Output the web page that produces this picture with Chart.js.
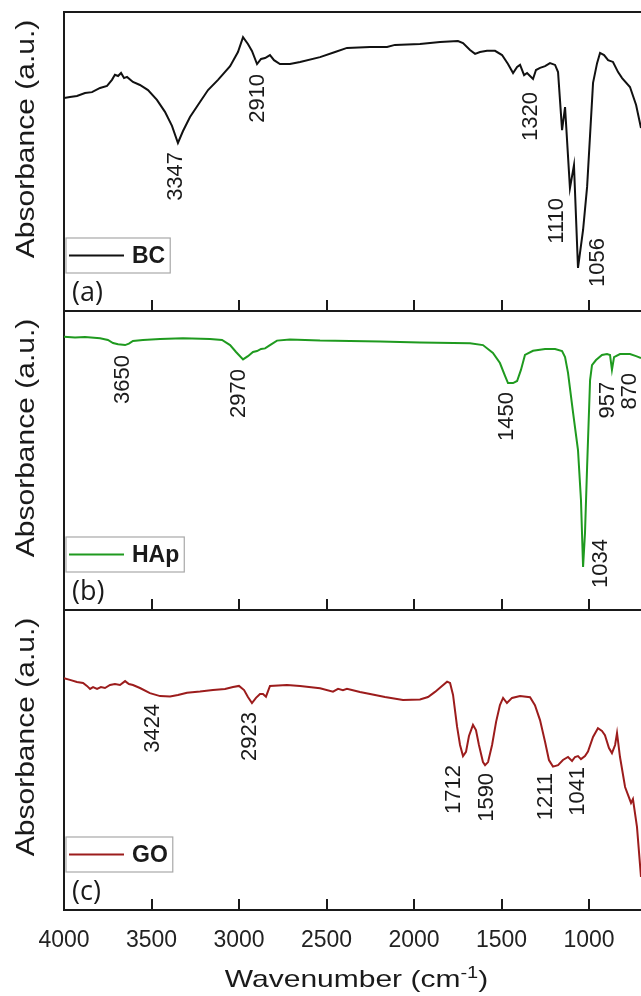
<!DOCTYPE html>
<html><head><meta charset="utf-8">
<script src="https://cdn.jsdelivr.net/npm/chart.js"></script>
<style>
html,body{margin:0;padding:0;background:#fff;}
#wrap{position:relative;width:641px;height:996px;overflow:hidden;background:#fff;}
canvas{position:absolute;left:0;}
</style></head><body>
<div id="wrap">
<canvas id="ca" width="641" height="312" style="top:0px"></canvas>
<canvas id="cb" width="641" height="301" style="top:311px"></canvas>
<canvas id="cc" width="641" height="386" style="top:610px"></canvas>
</div>
<script>
// ---- axis ticks ----
const xTicks = [4000, 3500, 3000, 2500, 2000, 1500, 1000];
const xMin = 703, xMax = 4000;

// ---- (a) BC ----
const bcWave = [4000,3966,3926,3880,3840,3794,3754,3726,3709,3691,3674,3657,3640,3606,3566,3520,3469,3423,3383,3349,3320,3280,3223,3177,3120,3051,3006,2977,2949,2926,2897,2874,2851,2823,2800,2766,2709,2651,2537,2451,2383,2251,2154,2109,1966,1851,1749,1720,1680,1651,1623,1583,1537,1497,1463,1434,1411,1394,1371,1354,1337,1320,1303,1280,1251,1223,1194,1177,1154,1137,1109,1086,1063,1034,1011,977,954,937,914,891,863,834,811,766,731,703];
const bcAbs = [71.2,71.6,71.9,72.9,73.2,74.6,75.3,77.3,79.0,78.6,79.6,77.9,78.3,76.6,75.6,73.9,70.6,66.6,61.9,56.2,60.2,64.9,69.9,73.9,77.3,81.9,86.6,91.6,89.3,87.0,82.6,84.3,84.6,85.6,83.9,82.6,82.6,83.3,84.9,86.6,88.0,88.3,88.3,89.0,89.3,90.0,90.3,89.6,87.3,86.0,86.6,87.0,87.0,85.6,82.6,79.6,81.6,82.3,78.9,79.6,78.6,77.6,80.6,81.3,81.9,82.9,82.3,79.9,60.5,68.2,41.1,48.8,14.4,27.1,41.5,76.3,82.9,86.3,85.6,83.9,83.3,79.9,77.9,74.9,68.9,61.2];
const bcPeakText = ['3347','2910','1320','1110','1056'];
const bcPeakWave = [3360, 2891, 1331, 1183, 949];
const bcPeakTop = [53.2, 79.3, 73.2, 37.8, 24.4];

// ---- (b) HAp ----
const hapWave = [4000,3937,3880,3794,3749,3720,3691,3651,3629,3606,3549,3451,3320,3166,3097,3051,3017,2977,2949,2920,2897,2874,2851,2823,2783,2709,2537,2194,1966,1680,1606,1549,1509,1480,1463,1434,1411,1389,1366,1320,1251,1194,1154,1137,1120,1091,1063,1046,1034,1023,1011,994,983,960,926,897,880,869,857,823,766,731,703];
const hapAbs = [91.4,91.1,91.3,90.9,90.3,89.3,88.9,88.6,89.1,90.0,90.3,90.6,90.9,90.6,90.3,88.6,86.3,83.8,84.9,86.3,86.6,87.3,87.5,88.6,90.1,90.5,90.1,89.8,89.5,89.2,88.6,86.0,82.6,78.3,75.9,75.9,76.6,80.3,85.3,86.7,87.3,87.3,86.6,84.6,79.3,65.9,53.5,36.8,14.4,25.8,47.8,76.9,81.9,83.6,85.3,85.6,85.3,80.3,84.6,85.6,85.6,84.9,84.3];
const hapPeakText = ['3650','2970','1450','1034','957','870'];
const hapPeakWave = [3663, 3000, 1469, 931, 891, 766];
const hapPeakTop = [85.3, 80.6, 72.9, 23.7, 76.3, 79.3];

// ---- (c) GO ----
const goWave = [4000,3966,3926,3891,3869,3851,3834,3811,3789,3766,3737,3709,3680,3651,3629,3606,3566,3509,3451,3394,3349,3297,3223,3149,3080,3034,3000,2971,2949,2926,2903,2880,2863,2846,2823,2726,2651,2537,2463,2434,2406,2383,2309,2251,2166,2063,1966,1920,1880,1840,1811,1794,1777,1754,1737,1720,1703,1686,1663,1646,1629,1606,1594,1577,1554,1531,1509,1491,1469,1440,1394,1337,1309,1280,1251,1229,1206,1177,1149,1120,1097,1080,1063,1046,1023,1006,977,949,926,909,886,869,851,840,823,794,760,749,726,703];
const goAbs = [77.3,76.7,76.0,75.7,74.7,73.7,74.3,73.7,74.3,74.0,75.0,75.3,75.0,76.3,75.3,75.0,74.0,72.3,71.3,71.2,71.7,72.4,72.8,73.3,73.7,74.3,74.7,73.3,71.0,69.0,70.7,72.0,72.0,71.1,74.7,75.0,74.7,73.9,72.8,73.7,73.3,73.7,72.7,72.0,71.0,70.0,70.2,71.0,72.7,74.7,76.1,75.7,71.7,61.1,55.0,51.3,52.7,58.0,61.7,60.0,55.0,49.3,48.3,49.3,55.0,62.7,68.3,70.7,69.0,70.7,71.3,70.9,68.3,63.3,56.0,50.0,47.8,48.3,50.0,51.0,49.7,51.0,51.3,50.3,51.3,52.8,57.7,60.6,59.7,58.3,54.0,52.3,55.0,59.0,51.0,41.0,35.7,37.0,27.7,11.0];
const goPeakText = ['3424','2923','1712','1590','1211','1041'];
const goPeakWave = [3491, 2937, 1771, 1583, 1246, 1063];
const goPeakTop = [68.7, 66.0, 48.3, 45.7, 45.7, 47.7];

const INK = '#1a1a1a';
const SANS = '"Liberation Sans", Arial, Helvetica, sans-serif';

function makeDeco(cfg) {
  return {
    id: 'deco_' + cfg.panel,
    afterDraw(chart) {
      const ctx = chart.ctx, a = chart.chartArea;
      const xs = chart.scales.x, ys = chart.scales.y;
      ctx.save();
      // inward tick marks on the bottom axis
      ctx.fillStyle = INK;
      for (const v of xTicks) {
        const px = Math.round(xs.getPixelForValue(v));
        ctx.fillRect(px - 1, Math.round(a.bottom) - 11, 2, 11);
      }
      // peak labels
      ctx.fillStyle = INK;
      ctx.font = '22px ' + SANS;
      ctx.textAlign = 'right';
      ctx.textBaseline = 'middle';
      cfg.peakText.forEach((t, i) => {
        ctx.save();
        ctx.translate(xs.getPixelForValue(cfg.peakWave[i]), ys.getPixelForValue(cfg.peakTop[i]));
        ctx.rotate(-Math.PI / 2);
        ctx.fillText(t, 0, 0);
        ctx.restore();
      });
      // legend box
      const ds = chart.data.datasets[0];
      ctx.font = 'bold 23px ' + SANS;
      const tw = ctx.measureText(ds.label).width;
      const bx = a.left + 2, by = a.bottom - 73, bh = 35;
      const tx = a.left + 68;
      const bw = tx + tw + 5 - bx;
      ctx.fillStyle = '#fff';
      ctx.fillRect(bx, by, bw, bh);
      ctx.strokeStyle = '#a8a8a8';
      ctx.lineWidth = 1.2;
      ctx.strokeRect(bx, by, bw, bh);
      ctx.strokeStyle = ds.borderColor;
      ctx.lineWidth = 2;
      ctx.beginPath();
      ctx.moveTo(a.left + 5, by + bh / 2);
      ctx.lineTo(a.left + 60, by + bh / 2);
      ctx.stroke();
      ctx.fillStyle = INK;
      ctx.textAlign = 'left';
      ctx.textBaseline = 'middle';
      ctx.fillText(ds.label, tx, by + bh / 2 + 1);
      // panel label
      ctx.font = '27px "Open Sans", ' + SANS;
      ctx.textBaseline = 'alphabetic';
      ctx.fillText(cfg.panel, a.left + 8, a.bottom - 10);
      // y title
      ctx.save();
      ctx.translate(34, a.top + 127);
      ctx.rotate(-Math.PI / 2);
      ctx.scale(1.2, 1);
      ctx.font = '25px ' + SANS;
      ctx.textAlign = 'center';
      ctx.textBaseline = 'alphabetic';
      ctx.fillText('Absorbance (a.u.)', 0, 0);
      ctx.restore();
      // x title
      if (cfg.xTitle) {
        const sx = 1.25;
        ctx.font = '24px ' + SANS;
        const p1 = 'Wavenumber (cm', p3 = ')';
        const w1 = ctx.measureText(p1).width, w3 = ctx.measureText(p3).width;
        ctx.font = '16px ' + SANS;
        const w2 = ctx.measureText('-1').width;
        const total = (w1 + w2 + w3) * sx;
        const cx = (a.left + 641 + 8) / 2;
        ctx.save();
        ctx.translate(cx - total / 2, a.bottom + 77);
        ctx.scale(sx, 1);
        ctx.textAlign = 'left';
        ctx.font = '24px ' + SANS;
        ctx.fillText(p1, 0, 0);
        ctx.font = '16px ' + SANS;
        ctx.fillText('-1', w1, -9);
        ctx.font = '24px ' + SANS;
        ctx.fillText(p3, w1 + w2, 0);
        ctx.restore();
      }
      ctx.restore();
    }
  };
}

function makeChart(id, label, color, wave, abs, peaks, opts) {
  const scales = {
    x: {
      type: 'linear', position: 'bottom', min: xMin, max: xMax, reverse: true,
      afterBuildTicks: s => { s.ticks = xTicks.map(v => ({ value: v })); },
      afterFit: s => { s.height = opts.xHeight; },
      grid: { display: false },
      border: { display: true, width: 2, color: INK },
      ticks: { display: opts.showTicks, autoSkip: false, maxRotation: 0, padding: 9, color: '#222',
               font: { family: SANS, size: 23 }, callback: v => String(v) }
    },
    y: {
      type: 'linear', position: 'left', min: 0, max: 100,
      afterFit: s => { s.width = 64; },
      grid: { display: false },
      border: { display: true, width: 2, color: INK },
      ticks: { display: false }
    }
  };
  if (opts.topFrame) {
    scales.x2 = {
      type: 'linear', position: 'top', min: xMin, max: xMax, reverse: true,
      afterFit: s => { s.height = 0; },
      grid: { display: false },
      border: { display: true, width: 2, color: INK },
      ticks: { display: false }
    };
  }
  return new Chart(document.getElementById(id), {
    type: 'line',
    data: {
      datasets: [{
        label: label,
        data: wave.map((w, i) => ({ x: w, y: abs[i] })),
        borderColor: color, borderWidth: 2, pointRadius: 0, tension: 0, fill: false
      }]
    },
    options: {
      responsive: false, animation: false, devicePixelRatio: 1,
      layout: { padding: { top: opts.padTop, left: 0, right: 0, bottom: 0 } },
      plugins: { legend: { display: false }, tooltip: { enabled: false } },
      scales: scales
    },
    plugins: [makeDeco(Object.assign({ panel: opts.panel, xTitle: opts.xTitle }, peaks))]
  });
}

makeChart('ca', 'BC', '#111111', bcWave, bcAbs,
  { peakText: bcPeakText, peakWave: bcPeakWave, peakTop: bcPeakTop },
  { panel: '(a)', padTop: 12, xHeight: 1, showTicks: false, topFrame: true, xTitle: false });
makeChart('cb', 'HAp', '#1f9a1f', hapWave, hapAbs,
  { peakText: hapPeakText, peakWave: hapPeakWave, peakTop: hapPeakTop },
  { panel: '(b)', padTop: 0, xHeight: 2, showTicks: false, topFrame: false, xTitle: false });
makeChart('cc', 'GO', '#9c1c1c', goWave, goAbs,
  { peakText: goPeakText, peakWave: goPeakWave, peakTop: goPeakTop },
  { panel: '(c)', padTop: 0, xHeight: 86, showTicks: true, topFrame: false, xTitle: true });
</script>
</body></html>
